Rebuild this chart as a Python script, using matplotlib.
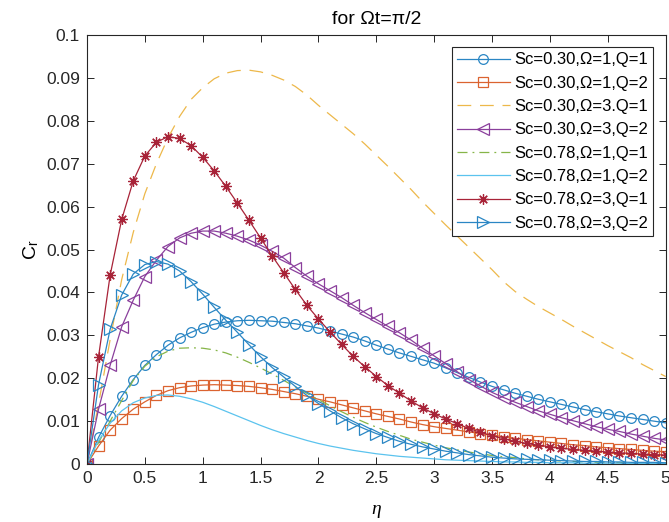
import numpy as np
import matplotlib
matplotlib.use("Agg")
import matplotlib.pyplot as plt

plt.rcParams['font.family'] = ['Liberation Sans', 'DejaVu Sans']
plt.rcParams['mathtext.fontset'] = 'custom'
plt.rcParams['mathtext.rm'] = 'Liberation Sans'
plt.rcParams['mathtext.it'] = 'Liberation Serif:italic'

eta = np.round(np.arange(0, 5.0001, 0.1), 1)

c_sc030_w1_q1 = [0, 0.0062, 0.0113, 0.0158, 0.0197, 0.0230, 0.0255, 0.0277, 0.0294, 0.0307,
                 0.0318, 0.0326, 0.0331, 0.0334, 0.0335, 0.0334, 0.0333, 0.0330, 0.0327, 0.0322,
                 0.0317, 0.0310, 0.0303, 0.0296, 0.0287, 0.0277, 0.0268, 0.0259, 0.0251, 0.0243,
                 0.0235, 0.0224, 0.0213, 0.0202, 0.0191, 0.0181, 0.0173, 0.0165, 0.0158, 0.0151,
                 0.0145, 0.0139, 0.0133, 0.0127, 0.0122, 0.0117, 0.0112, 0.0108, 0.0104, 0.0100,
                 0.0096]
c_sc030_w1_q2 = [0, 0.0042, 0.0079, 0.0106, 0.0128, 0.0145, 0.0160, 0.0171, 0.0178, 0.0182,
                 0.0184, 0.0185, 0.0184, 0.0183, 0.0181, 0.0178, 0.0174, 0.0169, 0.0164, 0.0158,
                 0.0151, 0.0145, 0.0138, 0.0131, 0.0124, 0.0117, 0.0111, 0.0105, 0.0098, 0.0092,
                 0.0087, 0.0083, 0.0079, 0.0075, 0.0071, 0.0067, 0.0064, 0.0060, 0.0057, 0.0054,
                 0.0051, 0.0048, 0.0045, 0.0043, 0.0040, 0.0038, 0.0036, 0.0034, 0.0032, 0.0030,
                 0.0029]
c_sc030_w3_q1 = [0, 0.0140, 0.0290, 0.0430, 0.0540, 0.0630, 0.0700, 0.0760, 0.0810, 0.0850,
                 0.0877, 0.0898, 0.0911, 0.0917, 0.0918, 0.0914, 0.0906, 0.0895, 0.0880, 0.0860,
                 0.0836, 0.0814, 0.0792, 0.0770, 0.0746, 0.0720, 0.0694, 0.0667, 0.0640, 0.0611,
                 0.0584, 0.0557, 0.0531, 0.0505, 0.0479, 0.0453, 0.0425, 0.0402, 0.0384, 0.0367,
                 0.0352, 0.0337, 0.0321, 0.0306, 0.0291, 0.0276, 0.0262, 0.0248, 0.0232, 0.0218,
                 0.0204]
c_sc030_w3_q2 = [0, 0.0128, 0.0230, 0.0320, 0.0382, 0.0437, 0.0475, 0.0507, 0.0527, 0.0538,
                 0.0543, 0.0543, 0.0538, 0.0531, 0.0522, 0.0510, 0.0496, 0.0480, 0.0458, 0.0438,
                 0.0420, 0.0404, 0.0388, 0.0370, 0.0353, 0.0337, 0.0321, 0.0306, 0.0289, 0.0270,
                 0.0252, 0.0234, 0.0215, 0.0197, 0.0182, 0.0167, 0.0155, 0.0144, 0.0134, 0.0124,
                 0.0116, 0.0108, 0.0101, 0.0094, 0.0087, 0.0081, 0.0076, 0.0070, 0.0065, 0.0060,
                 0.0056]
c_sc078_w1_q1 = [0, 0.0050, 0.0100, 0.0148, 0.0195, 0.0228, 0.0250, 0.0263, 0.0270, 0.0271,
                 0.0270, 0.0266, 0.0259, 0.0249, 0.0237, 0.0224, 0.0210, 0.0195, 0.0180, 0.0165,
                 0.0150, 0.0136, 0.0122, 0.0109, 0.0097, 0.0086, 0.0076, 0.0067, 0.0058, 0.0051,
                 0.0044, 0.0038, 0.0033, 0.0028, 0.0024, 0.0020, 0.0017, 0.0015, 0.0012, 0.0010,
                 0.0009, 0.0007, 0.0006, 0.0005, 0.0004, 0.0004, 0.0003, 0.0003, 0.0002, 0.0002,
                 0.0002]
c_sc078_w1_q2 = [0, 0.0055, 0.0095, 0.0124, 0.0143, 0.0154, 0.0160, 0.0161, 0.0158, 0.0152,
                 0.0144, 0.0134, 0.0123, 0.0112, 0.0101, 0.0090, 0.0080, 0.0071, 0.0063, 0.0055,
                 0.0048, 0.0042, 0.0037, 0.0032, 0.0028, 0.0024, 0.0021, 0.0018, 0.0016, 0.0014,
                 0.0012, 0.0010, 0.0009, 0.0008, 0.0007, 0.0006, 0.0005, 0.0005, 0.0004, 0.0004,
                 0.0003, 0.0003, 0.0003, 0.0002, 0.0002, 0.0002, 0.0002, 0.0001, 0.0001, 0.0001,
                 0.0001]
c_sc078_w3_q1 = [0, 0.0250, 0.0440, 0.0570, 0.0660, 0.0718, 0.0750, 0.0763, 0.0759, 0.0742,
                 0.0715, 0.0683, 0.0647, 0.0608, 0.0568, 0.0527, 0.0485, 0.0446, 0.0407, 0.0370,
                 0.0338, 0.0308, 0.0279, 0.0251, 0.0227, 0.0204, 0.0183, 0.0165, 0.0147, 0.0131,
                 0.0117, 0.0105, 0.0094, 0.0083, 0.0074, 0.0066, 0.0059, 0.0053, 0.0048, 0.0044,
                 0.0040, 0.0037, 0.0034, 0.0032, 0.0030, 0.0028, 0.0026, 0.0025, 0.0023, 0.0022,
                 0.0021]
c_sc078_w3_q2 = [0, 0.0185, 0.0314, 0.0394, 0.0443, 0.0465, 0.0472, 0.0466, 0.0450, 0.0425,
                 0.0396, 0.0365, 0.0335, 0.0307, 0.0278, 0.0250, 0.0225, 0.0203, 0.0181, 0.0160,
                 0.0141, 0.0124, 0.0108, 0.0094, 0.0082, 0.0071, 0.0062, 0.0053, 0.0046, 0.0040,
                 0.0035, 0.0030, 0.0026, 0.0022, 0.0019, 0.0016, 0.0014, 0.0012, 0.0011, 0.0010,
                 0.0009, 0.0008, 0.0007, 0.0006, 0.0006, 0.0005, 0.0005, 0.0004, 0.0004, 0.0004,
                 0.0003]

labels = ['Sc=0.30,\u03a9=1,Q=1', 'Sc=0.30,\u03a9=1,Q=2', 'Sc=0.30,\u03a9=3.Q=1',
          'Sc=0.30,\u03a9=3,Q=2', 'Sc=0.78,\u03a9=1,Q=1', 'Sc=0.78,\u03a9=1,Q=2',
          'Sc=0.78,\u03a9=3,Q=1', 'Sc=0.78,\u03a9=3,Q=2']
series = [c_sc030_w1_q1, c_sc030_w1_q2, c_sc030_w3_q1, c_sc030_w3_q2,
          c_sc078_w1_q1, c_sc078_w1_q2, c_sc078_w3_q1, c_sc078_w3_q2]

styles = [
    dict(color='#2A86C4', ls='-', marker='o', mfc='none', ms=7),
    dict(color='#DB6330', ls='-', marker='s', mfc='none', ms=6.5),
    dict(color='#EDB84A', ls=(0, (11, 7)), marker=None),
    dict(color='#8A3F9C', ls='-', marker='<', mfc='none', ms=8),
    dict(color='#86B548', ls=(0, (8, 4, 1.5, 4)), marker=None),
    dict(color='#5BC3EE', ls='-', marker=None),
    dict(color='#A82338', ls='-', marker=(8, 2, 0), mfc='none', ms=7.5),
    dict(color='#2A86C4', ls='-', marker='>', mfc='none', ms=8),
]

fig = plt.figure(figsize=(6.69, 5.22), dpi=100)
ax = fig.add_axes([0.130, 0.111, 0.865, 0.822])

for y, lab, st in zip(series, labels, styles):
    ax.plot(eta, y, label=lab, lw=0.9, markeredgewidth=0.9, **st)

ax.set_xlim(0, 5)
ax.set_ylim(0, 0.1)
ax.set_xticks(np.arange(0, 5.01, 0.5))
ax.set_xticklabels(['0', '0.5', '1', '1.5', '2', '2.5', '3', '3.5', '4', '4.5', '5'])
ax.set_yticks(np.arange(0, 0.1001, 0.01))
ax.set_yticklabels(['0', '0.01', '0.02', '0.03', '0.04', '0.05', '0.06', '0.07',
                    '0.08', '0.09', '0.1'])
ax.tick_params(direction='in', top=True, right=True, length=5, width=0.7,
               labelsize=12.5, colors='#262626', pad=5)
for sp in ax.spines.values():
    sp.set_linewidth(0.8)
    sp.set_color('#262626')

ax.set_xlabel(r'$\mathit{\eta}$', fontsize=14, labelpad=12)
ax.set_ylabel(r'C$_\mathregular{r}$', fontsize=14, labelpad=4)
ax.set_title('for \u03a9t=\u03c0/2', fontsize=14, pad=8)

leg = ax.legend(loc='upper right', fontsize=12, handlelength=3.2, borderaxespad=0.75,
                fancybox=False, framealpha=1, edgecolor='#262626', labelspacing=0.5,
                handletextpad=0.25, borderpad=0.3)
leg.get_frame().set_linewidth(0.8)

fig.savefig('out.png', dpi=100)
